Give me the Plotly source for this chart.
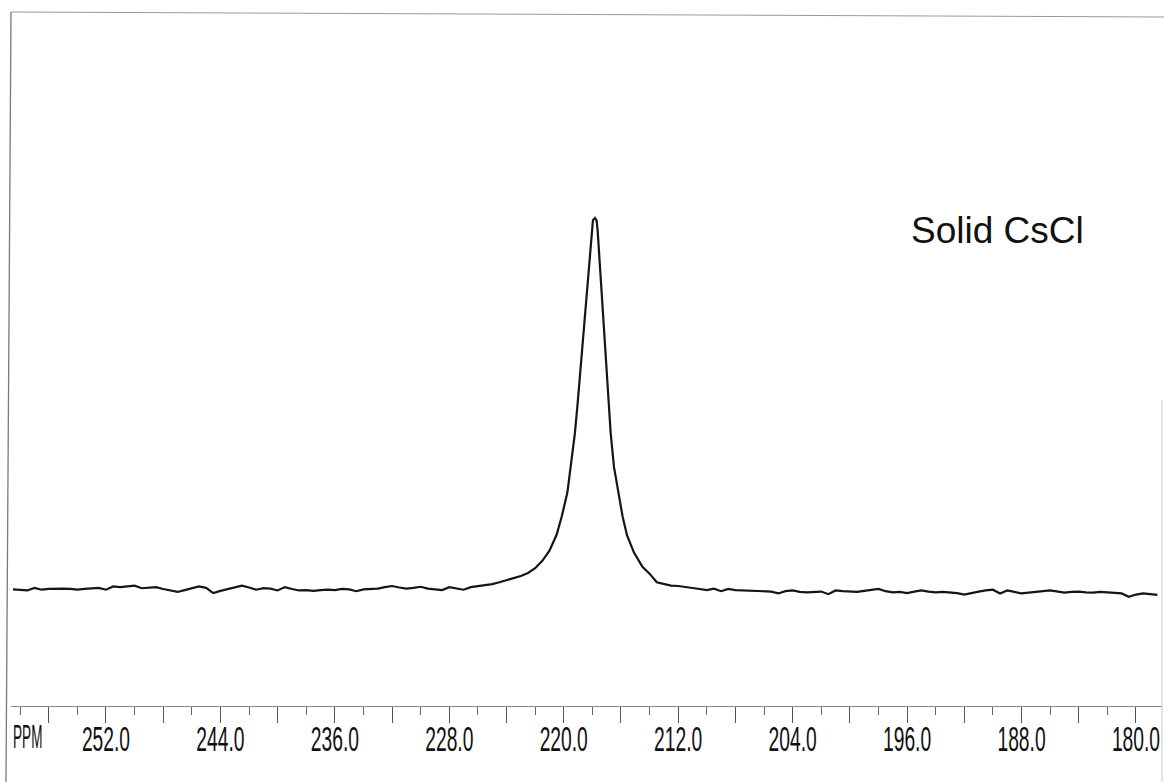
import plotly.graph_objects as go

# ---------------- data ----------------
# Left baseline (ppm grid 258.5 .. 226.0, step 0.5) -- intensity (arb. units, peak = 100)
left_base_start = 258.5
left_base_step = -0.5
left_base_int = [
    -0.1, -0.2, -0.4, 0.3, -0.2, 0.0, 0.1, 0.1, 0.0, -0.2,
    0.0, 0.2, 0.3, -0.2, 0.7, 0.5, 0.7, 0.9, 0.2, 0.4,
    0.5, 0.0, -0.4, -0.8, -0.3, 0.2, 0.7, 0.3, -1.1, -0.5,
    0.0, 0.3, 0.9, 0.4, -0.2, 0.2, 0.1, -0.4, 0.5, 0.0,
    -0.4, -0.3, -0.5, -0.3, -0.2, -0.3, 0.0, -0.1, -0.6, -0.1,
    0.0, 0.1, 0.5, 0.8, 0.4, 0.1, 0.3, 0.6, 0.1, -0.2,
    -0.3, 0.5, 0.2, -0.2, 0.5, 0.7,
]

# Peak region (explicit ppm / intensity pairs)
peak_ppm = [225.5, 225.0, 224.5, 224.0, 223.5, 223.0, 222.5, 222.0, 221.5, 221.0,
            220.5, 220.15, 219.75, 219.52, 219.22, 219.01, 218.82, 218.64, 218.45, 218.22,
            218.03, 217.96, 217.82, 217.70, 217.62, 217.47, 217.31, 217.17, 217.00, 216.89,
            216.72, 216.49, 216.12, 215.88, 215.58, 215.09, 214.5, 213.97, 213.5, 213.0,
            212.5]
peak_int = [0.9, 1.3, 1.8, 2.3, 2.8, 3.5, 4.3, 5.6, 7.6, 10.3,
            14.6, 19.4, 25.9, 32.9, 42.0, 50.9, 59.8, 69.0, 77.9, 86.8,
            96.0, 99.4, 100.0, 99.3, 96.0, 86.8, 77.9, 69.0, 59.8, 50.9,
            42.0, 32.9, 24.0, 19.4, 14.5, 9.8, 6.0, 4.0, 1.8, 1.3,
            0.9]

# Right baseline (ppm grid 212.0 .. 178.5, step 0.5)
right_base_start = 212.0
right_base_step = -0.5
right_base_int = [
    0.8, 0.6, 0.3, 0.0, -0.3, 0.1, -0.6, 0.0, -0.3, -0.4,
    -0.3, -0.6, -0.7, -0.7, -1.2, -0.6, -0.4, -0.8, -0.9, -0.8,
    -0.7, -1.4, -0.4, -0.6, -0.7, -0.8, -0.5, -0.3, 0.0, -0.6,
    -0.9, -0.8, -1.1, -0.7, -0.4, -0.7, -0.9, -0.8, -0.9, -1.1,
    -1.5, -1.0, -0.7, -0.4, -0.2, -1.2, -0.4, -0.8, -1.2, -1.0,
    -0.9, -0.6, -0.4, -0.8, -1.0, -0.8, -0.7, -0.9, -1.0, -0.8,
    -0.9, -1.1, -1.2, -2.1, -1.5, -1.2, -1.35, -1.6,
]

# Axis ticks / labels
tick_vals = [256, 252, 248, 244, 240, 236, 232, 228, 224, 220, 216, 212,
             208, 204, 200, 196, 192, 188, 184, 180]
tick_text = ["", "252.0", "", "244.0", "", "236.0", "", "228.0", "", "220.0", "",
             "212.0", "", "204.0", "", "196.0", "", "188.0", "", "180.0"]
axis_label = "PPM"
sample_label = "Solid CsCl"

# ---------------- assemble spectrum ----------------
left_ppm = [left_base_start + i * left_base_step for i in range(len(left_base_int))]
right_ppm = [right_base_start + i * right_base_step for i in range(len(right_base_int))]
ppm = left_ppm + peak_ppm + right_ppm
inten = left_base_int + peak_int + right_base_int

W, H = 1164, 782
ML, MR, MT, MB = 11, 2, 12, 76
PW, PH = W - ML - MR, H - MT - MB


def px(x):  # pixel -> paper x
    return (x - ML) / PW


def py(y):  # pixel -> paper y
    return (H - MB - y) / PH


fig = go.Figure()
fig.add_trace(go.Scatter(x=ppm, y=inten, mode="lines",
                         line=dict(color="#151515", width=2.2),
                         hoverinfo="skip", showlegend=False))

sans = "Liberation Sans, Arial, sans-serif"

fig.update_layout(
    template="none",
    width=W, height=H,
    margin=dict(l=ML, r=MR, t=MT, b=MB, pad=0, autoexpand=False),
    paper_bgcolor="white", plot_bgcolor="white",
    xaxis=dict(
        range=[258.64, 178.18], automargin=False,
        tickmode="array", tickvals=tick_vals, ticktext=tick_text,
        ticks="outside", ticklen=16, tickwidth=1, tickcolor="#555",
        minor=dict(dtick=2, tick0=180, ticks="outside", ticklen=8,
                   tickwidth=1, tickcolor="#666"),
        showline=True, linecolor="#8a8a8a", linewidth=1,
        showgrid=False, zeroline=False,
        tickfont=dict(family=sans, size=35, color="#111"),
        ticklabeloverflow="allow",
        ticklabelstandoff=-14,
    ),
    yaxis=dict(range=[-31.54, 155.5], visible=False, showgrid=False,
               zeroline=False, automargin=False),
    shapes=[
        # top border (slightly tilted scan)
        dict(type="line", xref="paper", yref="paper",
             x0=px(11), y0=py(12), x1=px(1164), y1=py(17),
             line=dict(color="#9a9a9a", width=1)),
        # left border
        dict(type="line", xref="paper", yref="paper",
             x0=px(11), y0=py(12), x1=px(6), y1=py(782),
             line=dict(color="#7a7a7a", width=1.3)),
        # right border (faint)
        dict(type="line", xref="paper", yref="paper",
             x0=px(1162), y0=py(400), x1=px(1162), y1=py(782),
             line=dict(color="#c8c8c8", width=1)),
    ],
    annotations=[
        dict(text=axis_label, xref="paper", yref="paper",
             x=px(28), y=py(736), xanchor="center", yanchor="middle",
             showarrow=False, font=dict(family=sans, size=33, color="#111")),
        dict(text=sample_label, xref="x", yref="y",
             x=195.87, y=96.5, xanchor="left", yanchor="middle",
             showarrow=False,
             font=dict(family=sans, size=37, color="#111")),
    ],
)

# The printed axis uses a strongly condensed typeface; squeeze the real text horizontally.
post = """
var gd = document.getElementById('{plot_id}');
function squeezeText(t, s) {
  var x = parseFloat(t.getAttribute('x') || '0');
  var base = t.getAttribute('transform') || '';
  t.setAttribute('transform', base + ' translate(' + x + ',0) scale(' + s + ',1) translate(' + (-x) + ',0)');
}
gd.querySelectorAll('.xtick text').forEach(function (t) { squeezeText(t, 0.55); });
var anns = gd.querySelectorAll('.annotation-text');
if (anns.length > 0) { squeezeText(anns[0], 0.41); }
"""

fig.write_html("out.html", post_script=post)
